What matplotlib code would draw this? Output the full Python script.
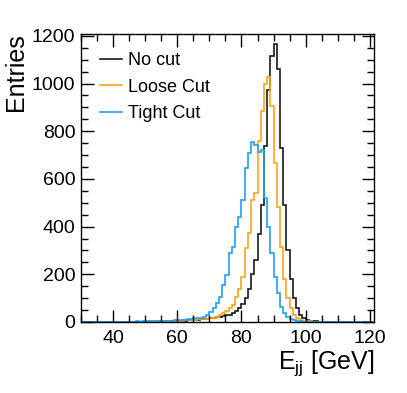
import numpy as np
import matplotlib
matplotlib.use("Agg")
import matplotlib.pyplot as plt
from matplotlib.lines import Line2D
from matplotlib.ticker import MultipleLocator

plt.rcParams['font.family'] = ['Liberation Sans', 'DejaVu Sans']

# bin edges: 1 GeV bins from 30 to 121
edges = np.arange(30, 122)

# entries per bin, bins 30..120
no_cut = [0, 0, 1, 0, 0, 1, 0, 1, 0, 1,
          1, 0, 1, 1, 0, 1, 1, 1, 2, 1,
          2, 1, 2, 2, 3, 2, 3, 3, 4, 4,
          5, 5, 6, 7, 8, 9, 10, 11, 12, 14,
          16, 18, 20, 23, 26, 30, 30, 38, 48, 60,
          75, 100, 140, 200, 260, 370, 490, 740, 975, 1115,
          1165, 1062, 730, 490, 302, 180, 100, 57, 30, 16,
          10, 6, 4, 3, 2, 1, 1, 1, 0, 1,
          0, 0, 0, 0, 0, 0, 0, 0, 0, 0, 0]
loose_cut = [0, 0, 0, 1, 0, 0, 1, 0, 1, 0,
             1, 1, 0, 1, 1, 1, 2, 1, 2, 2,
             2, 3, 2, 3, 3, 4, 4, 4, 5, 5,
             5, 6, 7, 8, 9, 10, 11, 12, 13, 14,
             16, 18, 22, 28, 36, 48, 57, 72, 105, 140,
             190, 310, 375, 510, 540, 760, 883, 1000, 1027, 904,
             666, 484, 316, 180, 99, 57, 29, 17, 10, 6,
             4, 3, 2, 1, 1, 1, 0, 0, 1, 0,
             0, 0, 0, 0, 0, 0, 0, 0, 0, 0, 0]
tight_cut = [0, 1, 0, 1, 0, 1, 1, 0, 1, 1,
             1, 1, 2, 1, 1, 2, 2, 3, 2, 3,
             3, 3, 4, 3, 4, 5, 5, 6, 6, 7,
             8, 9, 10, 12, 13, 15, 16, 18, 22, 29,
             43, 59, 79, 106, 155, 197, 289, 316, 400, 442,
             512, 645, 709, 757, 743, 715, 722, 520, 400, 290,
             190, 120, 65, 36, 22, 12, 8, 5, 3, 2,
             1, 1, 1, 0, 0, 0, 0, 0, 0, 0,
             0, 0, 0, 0, 0, 0, 0, 0, 0, 0, 0]

labels = ["No cut", "Loose Cut", "Tight Cut"]
colors = ["#1a1a1a", "#ffa31a", "#1f9ff2"]

fig = plt.figure(figsize=(4.07, 3.93), dpi=100)
ax = fig.add_axes([81 / 407, 71 / 393, 293 / 407, 288.5 / 393])

for vals, col in zip([no_cut, loose_cut, tight_cut], colors):
    ax.stairs(vals, edges, color=col, lw=1.2)

ax.set_xlim(30, 121.3)
ax.set_ylim(0, 1210)

ax.xaxis.set_major_locator(MultipleLocator(20))
ax.xaxis.set_minor_locator(MultipleLocator(5))
ax.yaxis.set_major_locator(MultipleLocator(200))
ax.yaxis.set_minor_locator(MultipleLocator(50))
ax.tick_params(which='both', direction='in', top=True, right=True, width=1)
ax.tick_params(which='major', length=9, labelsize=14)
ax.tick_params(which='minor', length=5)
ax.tick_params(axis='x', pad=6)
ax.tick_params(axis='y', pad=4)
for s in ax.spines.values():
    s.set_linewidth(1)

ax.set_xlabel("E$_{\\mathregular{jj}}$ [GeV]", fontsize=18, loc='right', labelpad=1)
ax.set_ylabel("Entries", fontsize=18, loc='top', labelpad=3)

handles = [Line2D([], [], color=c, lw=1.2) for c in colors]
ax.legend(handles, labels, loc='upper left', bbox_to_anchor=(0.065, 0.936),
          frameon=False, fontsize=13, handlelength=1.2, handletextpad=0.35,
          labelspacing=0.53, borderaxespad=0, borderpad=0)

fig.savefig("out.png", dpi=100)
